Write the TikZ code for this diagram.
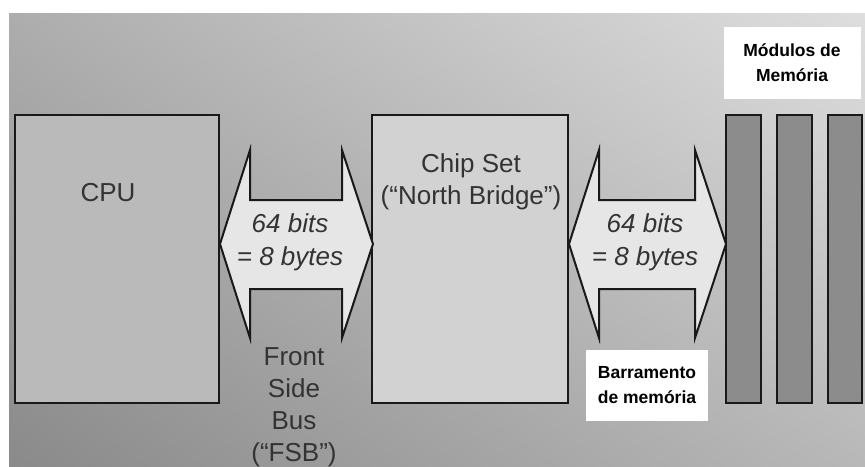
\documentclass[tikz,border=0pt]{standalone}
\usepackage{fontspec}
\setmainfont{Liberation Sans}
\usepackage{tikz}
\usetikzlibrary{calc,shadings}
\definecolor{BgDark}{HTML}{8A8A8A}
\definecolor{BgLight}{HTML}{DEDEDE}
\definecolor{BgMidA}{HTML}{ADADAD}
\definecolor{BgMidB}{HTML}{B8B8B8}
\definecolor{CpuGray}{HTML}{BABABA}
\definecolor{ChipGray}{HTML}{D2D2D2}
\definecolor{BusGray}{HTML}{E6E6E6}
\definecolor{MemGray}{HTML}{8C8C8C}

\begin{document}
\begin{tikzpicture}[x=1pt,y=-1pt,
    box/.style={draw=black!90,line width=2pt,minimum height=288pt,inner sep=0pt},
    bus/.style={draw=black!90,line width=2pt,fill=BusGray,line join=miter},
    big/.style={font=\fontsize{26}{32}\selectfont,align=center,text=black!80},
    busfont/.style={font=\fontsize{26}{33}\selectfont\itshape,align=center,text=black!80},
    tag/.style={fill=white,align=center,inner sep=0pt,
      font=\fontsize{17.5}{25}\selectfont\bfseries}
  ]
    \useasboundingbox (0,0) rectangle (865,466);
    \shade[upper left=BgMidA,upper right=BgLight,lower left=BgDark,lower right=BgMidB]
      (9,13) rectangle (865,466);

    \node[box,fill=CpuGray,minimum width=204pt] (cpu) at (117,259) {};
    \node[box,fill=ChipGray,minimum width=196pt] (chip) at (470,259) {};
    \node[box,fill=MemGray,minimum width=35pt] (mem1) at (743.5,259) {};
    \node[box,fill=MemGray,minimum width=35pt] (mem2) at (794.5,259) {};
    \node[box,fill=MemGray,minimum width=34pt] (mem3) at (845,259) {};

    \node[big] (cpulbl) at (108,193) {CPU};
    \node[big] (chiplbl) at (471,182) {Chip Set\\(“North Bridge”)};

    % front side bus
    \draw[bus] (cpu.east |- 0,244) -- ++(30,-94) -- ++(0,50) -- ++(92,0) -- ++(0,-50)
      -- ++(31,94) -- ++(-31,94) -- ++(0,-49) -- ++(-92,0) -- ++(0,49) -- cycle;
    % memory bus
    \draw[bus] (chip.east |- 0,244) -- ++(30,-94) -- ++(0,50) -- ++(96,0) -- ++(0,-50)
      -- ++(31,94) -- ++(-31,94) -- ++(0,-49) -- ++(-96,0) -- ++(0,49) -- cycle;

    \node[busfont] (fsbwidth) at (290,242) {64 bits\\= 8 bytes};
    \node[busfont] (memwidth) at (645,242) {64 bits\\= 8 bytes};
    \node[big] (fsblbl) at (294,407) {Front\\Side\\Bus\\(“FSB”)};

    \node[tag,minimum width=137pt,minimum height=72pt] (modtag) at (792,63)
      {Módulos de\\Memória};
    \node[tag,minimum width=122pt,minimum height=71pt] (bartag) at (647,385.5)
      {Barramento\\de memória};
  \end{tikzpicture}
\end{document}
